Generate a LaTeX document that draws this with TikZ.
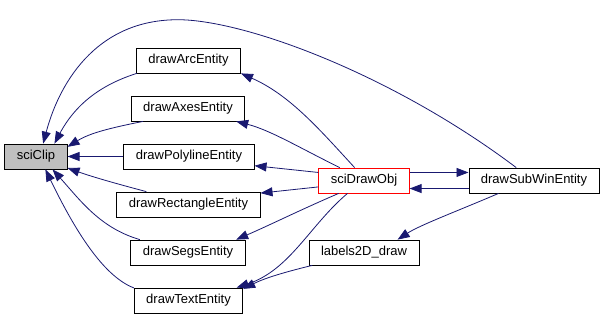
\documentclass[tikz,border=0pt]{standalone}
\usepackage{fontspec}
\setmainfont{Liberation Sans}
\usetikzlibrary{arrows.meta}
\definecolor{edgeblue}{RGB}{25,25,112}
\definecolor{rootgray}{RGB}{191,191,191}
\tikzset{
  fn/.style={draw,line width=0.8pt,minimum height=25pt,inner xsep=12pt,font=\fontsize{13}{15}\selectfont},
  call/.style={edgeblue,line width=0.8pt,-{Triangle[length=12pt,width=9pt]}}
}

\begin{document}
\begin{tikzpicture}[x=1pt,y=-1pt]
  \useasboundingbox (0,0) rectangle (605,317);
  \node[fn,fill=rootgray](clip) at (36,156.5){sciClip};
  \node[fn](arc) at (188.5,60.5){drawArcEntity};
  \node[fn](axes) at (188,108.5){drawAxesEntity};
  \node[fn](poly) at (189,156.5){drawPolylineEntity};
  \node[fn](rect) at (188.5,204.5){drawRectangleEntity};
  \node[fn](segs) at (188,252.5){drawSegsEntity};
  \node[fn](text) at (188.5,300.5){drawTextEntity};
  \node[fn,draw=red](obj) at (364,180.5){sciDrawObj};
  \node[fn](sub) at (534,180.5){drawSubWinEntity};
  \node[fn](lab) at (364,252.5){labels2D\_draw};
  \draw[call](sub.144) .. controls (400,80) and (260,25) .. (187,20) .. controls (100,15) and (60,80) .. (clip.61);
  \draw[call](arc.-166) .. controls (100,85) and (75,105) .. (clip.35);
  \draw[call](axes.-164) .. controls (110,128) and (90,133) .. (clip.17);
  \draw[call](poly) -- (clip);
  \draw[call](rect.163) .. controls (110,182) and (90,176) .. (clip.-20);
  \draw[call](segs.165) .. controls (100,228) and (80,200) .. (clip.-38);
  \draw[call](text.167) .. controls (100,275) and (70,220) .. (clip.-54);
  \draw[call](obj.126) .. controls (320,130) and (290,95) .. (arc.south east);
  \draw[call](obj.152) .. controls (300,148) and (270,130) .. (axes.-15);
  \draw[call](obj.170) -- (poly.-8);
  \draw[call](obj.-172) -- (rect.9);
  \draw[call](obj.-153) .. controls (300,210) and (270,225) .. (segs.15);
  \draw[call](obj.-142) .. controls (310,225) and (290,270) .. (text.15);
  \draw[call](lab.-166) .. controls (285,272) and (265,278) .. (text.12);
  \draw[call](obj.east |- sub.173) -- (sub.173);
  \draw[call](sub.-173) -- (obj.east |- sub.-173);
  \draw[call](sub.-160) .. controls (460,210) and (420,225) .. (lab.21);
\end{tikzpicture}
\end{document}
